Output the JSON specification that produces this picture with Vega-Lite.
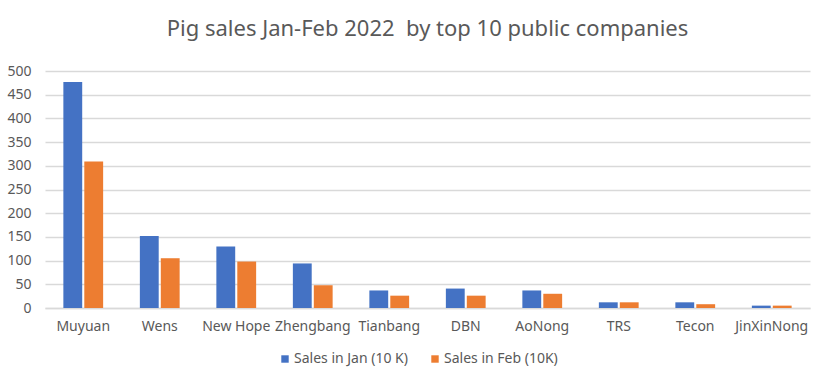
{
  "$schema": "https://vega.github.io/schema/vega-lite/v6.json",
  "width": 765,
  "height": 237,
  "autosize": "none",
  "padding": {"left": 45, "top": 71, "right": 18, "bottom": 70},
  "background": "white",
  "title": {
    "text": "Pig sales Jan-Feb 2022 \u00a0by top 10 public companies",
    "fontSize": 22,
    "font": "Noto Sans",
    "fontWeight": "normal",
    "color": "#595959",
    "anchor": "middle",
    "offset": 23
  },
  "data": {
    "values": [
      {"company": "Muyuan", "series": "Sales in Jan (10 K)", "value": 477},
      {"company": "Muyuan", "series": "Sales in Feb (10K)", "value": 309},
      {"company": "Wens", "series": "Sales in Jan (10 K)", "value": 152},
      {"company": "Wens", "series": "Sales in Feb (10K)", "value": 105},
      {"company": "New Hope", "series": "Sales in Jan (10 K)", "value": 130},
      {"company": "New Hope", "series": "Sales in Feb (10K)", "value": 98},
      {"company": "Zhengbang", "series": "Sales in Jan (10 K)", "value": 94},
      {"company": "Zhengbang", "series": "Sales in Feb (10K)", "value": 48},
      {"company": "Tianbang", "series": "Sales in Jan (10 K)", "value": 37},
      {"company": "Tianbang", "series": "Sales in Feb (10K)", "value": 26},
      {"company": "DBN", "series": "Sales in Jan (10 K)", "value": 41},
      {"company": "DBN", "series": "Sales in Feb (10K)", "value": 26},
      {"company": "AoNong", "series": "Sales in Jan (10 K)", "value": 37},
      {"company": "AoNong", "series": "Sales in Feb (10K)", "value": 30},
      {"company": "TRS", "series": "Sales in Jan (10 K)", "value": 12},
      {"company": "TRS", "series": "Sales in Feb (10K)", "value": 12},
      {"company": "Tecon", "series": "Sales in Jan (10 K)", "value": 12},
      {"company": "Tecon", "series": "Sales in Feb (10K)", "value": 8},
      {"company": "JinXinNong", "series": "Sales in Jan (10 K)", "value": 5},
      {"company": "JinXinNong", "series": "Sales in Feb (10K)", "value": 5}
    ]
  },
  "mark": {"type": "bar"},
  "encoding": {
    "x": {
      "field": "company",
      "type": "nominal",
      "sort": null,
      "scale": {"paddingInner": 0.48, "paddingOuter": 0.24},
      "axis": {
        "title": null,
        "labelAngle": 0,
        "labelFontSize": 14,
        "labelFont": "Noto Sans",
        "labelColor": "#595959",
        "labelPadding": 11,
        "ticks": false,
        "domainColor": "#d9d9d9",
        "domainWidth": 1.5,
        "grid": false
      }
    },
    "xOffset": {
      "field": "series",
      "type": "nominal",
      "sort": ["Sales in Jan (10 K)", "Sales in Feb (10K)"],
      "scale": {"paddingInner": 0.1}
    },
    "y": {
      "field": "value",
      "type": "quantitative",
      "scale": {"domain": [0, 500], "nice": false},
      "axis": {
        "title": null,
        "values": [0, 50, 100, 150, 200, 250, 300, 350, 400, 450, 500],
        "labelFontSize": 14,
        "labelFont": "Noto Sans",
        "labelColor": "#595959",
        "labelPadding": 14,
        "ticks": false,
        "domain": false,
        "gridColor": "#d9d9d9",
        "gridWidth": 1.5
      }
    },
    "color": {
      "field": "series",
      "type": "nominal",
      "sort": ["Sales in Jan (10 K)", "Sales in Feb (10K)"],
      "scale": {"range": ["#4472C4", "#ED7D31"]},
      "legend": {
        "title": null,
        "orient": "none",
        "legendX": 231,
        "legendY": 281,
        "direction": "horizontal",
        "symbolType": "square",
        "symbolSize": 55,
        "symbolOffset": 2,
        "labelOffset": 2,
        "labelFontSize": 14,
        "labelFont": "Noto Sans",
        "labelColor": "#595959",
        "columnPadding": 18,
        "symbolStrokeWidth": 0
      }
    }
  },
  "config": {"view": {"stroke": null}}
}
